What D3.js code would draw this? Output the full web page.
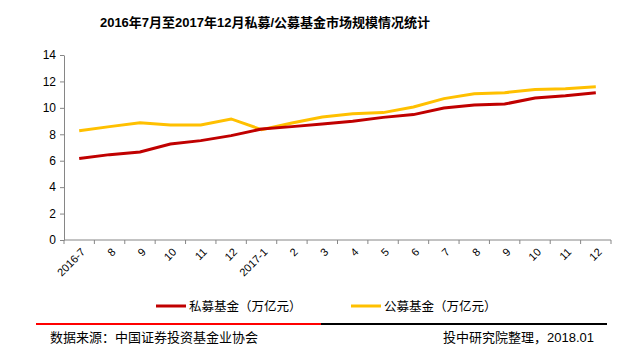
<!DOCTYPE html>
<html>
<head>
<meta charset="utf-8">
<script src="https://cdn.jsdelivr.net/npm/d3@7"></script>
<style>
  body { margin: 0; background: #fff; }
  text { font-family: "Liberation Sans", "Noto Sans CJK SC", sans-serif; }
</style>
</head>
<body>
<div id="chart"></div>
<script>
const months = ["2016-7", "8", "9", "10", "11", "12", "2017-1", "2", "3", "4", "5", "6", "7", "8", "9", "10", "11", "12"];
const privateFund = [6.16, 6.46, 6.66, 7.27, 7.52, 7.9, 8.4, 8.58, 8.78, 8.98, 9.28, 9.49, 9.99, 10.22, 10.29, 10.75, 10.92, 11.15];
const publicFund = [8.27, 8.58, 8.88, 8.7, 8.7, 9.16, 8.35, 8.85, 9.31, 9.56, 9.64, 10.07, 10.7, 11.07, 11.15, 11.38, 11.45, 11.6];
const yTicks = [0, 2, 4, 6, 8, 10, 12, 14];

const width = 640;
const height = 354;
const margin = { top: 55, right: 29, bottom: 114, left: 64 };

const svg = d3.select("#chart")
    .append("svg")
    .attr("width", width)
    .attr("height", height);

const x = d3.scaleBand()
    .domain(d3.range(months.length))
    .range([margin.left, width - margin.right]);

const y = d3.scaleLinear()
    .domain([0, 14])
    .range([height - margin.bottom, margin.top]);

// title
svg.append("text")
    .attr("x", 265)
    .attr("y", 27)
    .attr("text-anchor", "middle")
    .style("font-size", "13px")
    .style("font-weight", "bold")
    .text("2016年7月至2017年12月私募/公募基金市场规模情况统计");

// y axis
const yAxis = svg.append("g")
    .attr("transform", `translate(${margin.left},0)`)
    .call(d3.axisLeft(y).tickValues(yTicks).tickSize(4).tickSizeOuter(0).tickPadding(4));
yAxis.select(".domain").attr("stroke", "#868686");
yAxis.selectAll(".tick line").attr("stroke", "#868686");
yAxis.selectAll(".tick text").style("font-size", "12px").attr("fill", "#000");

// x axis, ticks on band boundaries
const xAxis = svg.append("g")
    .attr("transform", `translate(0,${y(0)})`);
xAxis.append("line")
    .attr("x1", margin.left).attr("x2", width - margin.right)
    .attr("stroke", "#868686");
xAxis.selectAll(".xt")
    .data(d3.range(months.length + 1))
    .enter()
    .append("line")
    .attr("class", "xt")
    .attr("x1", i => margin.left + i * x.step())
    .attr("x2", i => margin.left + i * x.step())
    .attr("y1", 0).attr("y2", 4)
    .attr("stroke", "#868686");
xAxis.selectAll(".xl")
    .data(months)
    .enter()
    .append("text")
    .attr("class", "xl")
    .attr("transform", (d, i) => `translate(${x(i) + x.bandwidth() / 2 + 4},${10}) rotate(-45)`)
    .attr("text-anchor", "end")
    .attr("dy", "0.35em")
    .style("font-size", "11px")
    .attr("fill", "#000")
    .text(d => d);

const line = d3.line()
    .x((d, i) => x(i) + x.bandwidth() / 2)
    .y(d => y(d));

svg.append("path")
    .datum(publicFund)
    .attr("fill", "none")
    .attr("stroke", "#ffc000")
    .attr("stroke-width", 3)
    .attr("d", line);

svg.append("path")
    .datum(privateFund)
    .attr("fill", "none")
    .attr("stroke", "#c00000")
    .attr("stroke-width", 3)
    .attr("d", line);

// legend
const legendItems = [
    { name: "私募基金（万亿元）", color: "#c00000", x: 156 },
    { name: "公募基金（万亿元）", color: "#ffc000", x: 351 }
];
const legend = svg.append("g").attr("transform", "translate(0,306)");
legend.selectAll("line")
    .data(legendItems)
    .enter()
    .append("line")
    .attr("x1", d => d.x).attr("x2", d => d.x + 30)
    .attr("stroke", d => d.color)
    .attr("stroke-width", 3);
legend.selectAll("text")
    .data(legendItems)
    .enter()
    .append("text")
    .attr("x", d => d.x + 33)
    .attr("dy", "0.36em")
    .style("font-size", "12.5px")
    .text(d => d.name);

// footer
svg.append("line")
    .attr("x1", 36).attr("x2", 321).attr("y1", 324).attr("y2", 324)
    .attr("stroke", "#ff0000").attr("stroke-width", 2);
svg.append("line")
    .attr("x1", 321).attr("x2", 607).attr("y1", 324).attr("y2", 324)
    .attr("stroke", "#000").attr("stroke-width", 2);

svg.append("text")
    .attr("x", 50)
    .attr("y", 342)
    .style("font-size", "13px")
    .text("数据来源：中国证券投资基金业协会");

svg.append("text")
    .attr("x", 594)
    .attr("y", 342)
    .attr("text-anchor", "end")
    .style("font-size", "13px")
    .text("投中研究院整理，2018.01");
</script>
</body>
</html>
